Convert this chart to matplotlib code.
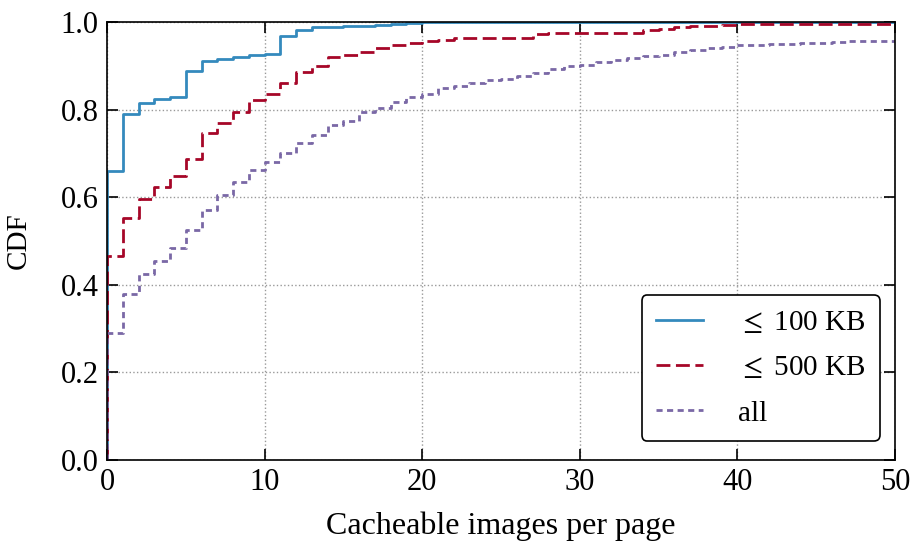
import numpy as np
from matplotlib import pyplot as plt

# データ (x = 画像数, y = CDF)
x_vals = np.arange(0, 51)

cdf_100kb = [0.660, 0.791, 0.816, 0.824, 0.828, 0.889, 0.912, 0.916, 0.921, 0.926,
             0.928, 0.968, 0.982, 0.989, 0.990, 0.991, 0.992, 0.993, 0.996, 0.998,
             1.0, 1.0, 1.0, 1.0, 1.0, 1.0, 1.0, 1.0, 1.0, 1.0,
             1.0, 1.0, 1.0, 1.0, 1.0, 1.0, 1.0, 1.0, 1.0, 1.0,
             1.0, 1.0, 1.0, 1.0, 1.0, 1.0, 1.0, 1.0, 1.0, 1.0, 1.0]

cdf_500kb = [0.466, 0.552, 0.596, 0.623, 0.649, 0.687, 0.747, 0.769, 0.795, 0.822,
             0.837, 0.862, 0.887, 0.900, 0.921, 0.925, 0.931, 0.940, 0.947, 0.953,
             0.957, 0.960, 0.965, 0.965, 0.965, 0.965, 0.965, 0.974, 0.975, 0.975,
             0.976, 0.976, 0.976, 0.976, 0.982, 0.985, 0.988, 0.991, 0.992, 0.994,
             0.995, 0.995, 0.995, 0.995, 0.995, 0.995, 0.996, 0.996, 0.996, 0.996, 0.996]

cdf_all = [0.289, 0.379, 0.425, 0.454, 0.485, 0.525, 0.572, 0.605, 0.635, 0.662,
           0.680, 0.702, 0.725, 0.742, 0.765, 0.774, 0.795, 0.803, 0.817, 0.830,
           0.837, 0.849, 0.855, 0.860, 0.868, 0.871, 0.877, 0.885, 0.893, 0.900,
           0.903, 0.909, 0.913, 0.918, 0.923, 0.926, 0.932, 0.937, 0.940, 0.944,
           0.947, 0.948, 0.950, 0.951, 0.952, 0.953, 0.955, 0.956, 0.957, 0.958, 0.958]

labels = [r'$\leq$ 100 KB', r'$\leq$ 500 KB', 'all']
colors = ['#348ABD', '#A60628', '#7A68A6']

plt.rcParams['font.family'] = ['Liberation Serif', 'DejaVu Serif']
plt.rcParams['mathtext.fontset'] = 'stix'

fig = plt.figure(figsize=(9.17, 5.41), dpi=100)
ax = fig.add_axes([0.1167, 0.1497, 0.8593, 0.8093])

series = [cdf_100kb, cdf_500kb, cdf_all]
dash_list = [None, (5, 2), (2.2, 1.6)]
for ys, lab, c, d in zip(series, labels, colors, dash_list):
    xs = np.concatenate([[0], x_vals])
    yy = np.concatenate([[0], ys])
    line, = ax.step(xs, yy, where='post', color=c, lw=2, label=lab)
    if d is not None:
        line.set_dashes(d)

ax.set_xlim(0, 50)
ax.set_ylim(0, 1.0)
ax.set_xticks([0, 10, 20, 30, 40, 50])
ax.set_yticks([0.0, 0.2, 0.4, 0.6, 0.8, 1.0])
ax.set_yticklabels(['0.0', '0.2', '0.4', '0.6', '0.8', '1.0'])
ax.tick_params(direction='in', top=True, right=True, length=8, width=1.2,
               labelsize=22, pad=6)
ax.grid(True, linestyle=':', color='#999999', lw=1)
for s in ax.spines.values():
    s.set_linewidth(1.2)

ax.set_xlabel('Cacheable images per page', fontsize=23, labelpad=10)
ax.set_ylabel('CDF', fontsize=21)
ax.yaxis.set_label_coords(-0.095, 0.5)

leg = ax.legend(loc='lower right', fontsize=21, handlelength=1.6,
                handletextpad=1.2, borderpad=0.5, labelspacing=0.65,
                fancybox=True, framealpha=1, borderaxespad=0,
                bbox_to_anchor=(0.981, 0.043))
leg.get_frame().set_edgecolor('black')
leg.get_frame().set_linewidth(1.2)

fig.savefig('out.png', dpi=100)
plt.close()
